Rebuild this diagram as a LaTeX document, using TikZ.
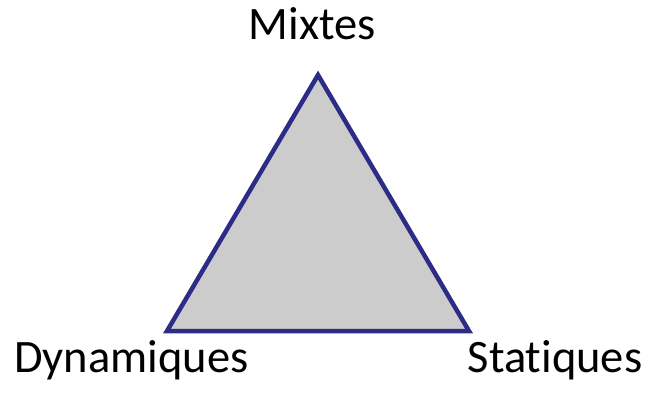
\documentclass[tikz,border=0pt]{standalone}
\usepackage{fontspec}
\setmainfont[Ligatures={NoCommon}]{Carlito}
\definecolor{navy}{RGB}{44,44,135}
\definecolor{fillgray}{RGB}{204,204,204}
\begin{document}
\begin{tikzpicture}[x=1pt,y=1pt,
  lbl/.style={anchor=base,inner sep=0pt,font=\fontsize{46.5}{52}\selectfont}]
\useasboundingbox (0,0) rectangle (650,397);
\coordinate (T) at (318,322);
\coordinate (L) at (167,66);
\coordinate (R) at (469,66);
\filldraw[draw=navy,fill=fillgray,line width=4.5pt,line join=miter] (T) -- (L) -- (R) -- cycle;
\node[lbl] (mix) at (312.5,357) {Mixtes};
\node[lbl] (dyn) at (131.5,25) {Dynamiques};
\node[lbl] (sta) at (555,25) {Statiques};
\end{tikzpicture}
\end{document}
